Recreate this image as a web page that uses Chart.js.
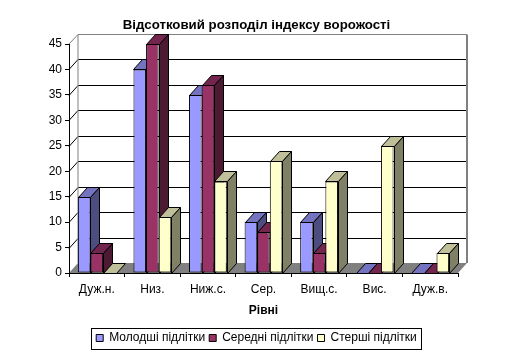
<!DOCTYPE html>
<html>
<head>
<meta charset="utf-8">
<title>Відсотковий розподіл індексу ворожості</title>
<script src="https://cdn.jsdelivr.net/npm/chart.js@4"></script>
<style>
  html, body { margin: 0; padding: 0; background: #ffffff; }
  canvas { display: block; }
</style>
</head>
<body>
<canvas id="grafica" width="513" height="359"></canvas>
<script>
// Datos de la gráfica
const categories = ["Дуж.н.", "Низ.", "Ниж.с.", "Сер.", "Вищ.с.", "Вис.", "Дуж.в."];
const molodshi = [15, 40, 35, 10, 10, 0, 0];
const seredni = [4, 45, 37, 8, 4, 0, 0];
const starshi = [0, 11, 18, 22, 18, 25, 4];
const yTicks = [0, 5, 10, 15, 20, 25, 30, 35, 40, 45];

// Profundidad del efecto 3D
const DX = 9;
const DY = -10;

// Colores: frente, tapa, lateral
const caras = [
    { front: '#9999ff', top: '#7373bf', side: '#4d4d80' },
    { front: '#993366', top: '#73264d', side: '#4d1a33' },
    { front: '#ffffcc', top: '#bfbf99', side: '#808066' }
];

function poligono(ctx, puntos, fill, stroke) {
    ctx.beginPath();
    puntos.forEach((p, i) => i ? ctx.lineTo(p[0], p[1]) : ctx.moveTo(p[0], p[1]));
    ctx.closePath();
    if (fill) { ctx.fillStyle = fill; ctx.fill(); }
    if (stroke) { ctx.strokeStyle = stroke; ctx.lineWidth = 1; ctx.stroke(); }
}

// Paredes, piso y rejilla del fondo
const fondo3d = {
    id: 'fondo3d',
    beforeDraw(chart) {
        const { ctx, chartArea: a, scales } = chart;
        const y = scales.y;
        ctx.save();
        ctx.fillStyle = '#ffffff';
        ctx.fillRect(0, 0, chart.width, chart.height);

        // Piso
        poligono(ctx, [[a.left, a.bottom], [a.right, a.bottom], [a.right + DX, a.bottom + DY], [a.left + DX, a.bottom + DY]], '#808080', null);

        // Rejilla
        ctx.lineWidth = 1;
        ctx.strokeStyle = '#000000';
        yTicks.slice(1, -1).forEach((v) => {
            const py = Math.round(y.getPixelForValue(v)) + 0.5;
            ctx.beginPath();
            ctx.moveTo(a.left, py);
            ctx.lineTo(a.left + DX, py + DY);
            ctx.lineTo(a.right + DX, py + DY);
            ctx.stroke();
        });

        // Borde gris de la pared
        const top = Math.round(a.top) + DY + 0.5;
        const bottom = a.bottom + DY;
        ctx.strokeStyle = '#808080';
        ctx.beginPath();
        ctx.moveTo(a.left, a.top);
        ctx.lineTo(a.left + DX, top);
        ctx.lineTo(a.left + DX, bottom);
        ctx.stroke();
        ctx.beginPath();
        ctx.moveTo(a.left + DX, top);
        ctx.lineTo(a.right + DX, top);
        ctx.stroke();
        ctx.lineWidth = 2;
        ctx.beginPath();
        ctx.moveTo(a.right + DX, top);
        ctx.lineTo(a.right + DX, bottom);
        ctx.stroke();
        ctx.restore();
    },
    // Chart.js pinta el primer dataset encima; aquí interesa al revés
    beforeDatasetDraw() {
        return false;
    },
    afterDatasetsDraw(chart) {
        const { ctx } = chart;
        ctx.save();
        caras.forEach((cara, i) => {
            chart.getDatasetMeta(i).data.forEach((bar) => {
                const l = Math.round(bar.x - bar.width / 2) + 0.5;
                const r = Math.round(bar.x + bar.width / 2) + 0.5;
                const t = Math.round(bar.y) + 0.5;
                const b = Math.round(bar.base) + 0.5;
                bar.draw(ctx);
                poligono(ctx, [[l, t], [r, t], [r + DX, t + DY], [l + DX, t + DY]], cara.top, '#000000');
                if (b > t) {
                    poligono(ctx, [[r, t], [r + DX, t + DY], [r + DX, b + DY], [r, b]], cara.side, '#000000');
                }
            });
        });
        ctx.restore();
    },
    // Marco de la leyenda
    afterDraw(chart) {
        const cajas = chart.legend.legendHitBoxes;
        const ultima = cajas[cajas.length - 1];
        const { ctx } = chart;
        ctx.save();
        ctx.strokeStyle = '#000000';
        ctx.lineWidth = 1;
        const x = Math.round(cajas[0].left) - 4.5;
        const w = Math.round(ultima.left + ultima.width) + 4.5 - x;
        ctx.strokeRect(x, Math.round(chart.legend.top) + 0.5, w, 21);
        ctx.restore();
    }
};

const conjunto = (label, data, i) => ({
    label: label,
    data: data,
    backgroundColor: caras[i].front,
    borderColor: '#000000',
    borderWidth: 1,
    borderSkipped: false,
    barPercentage: 1,
    categoryPercentage: 0.68
});

Chart.defaults.font.family = '"Liberation Sans", Arial, sans-serif';
Chart.defaults.font.size = 12;
Chart.defaults.color = '#000000';

new Chart(document.getElementById('grafica'), {
    type: 'bar',
    data: {
        labels: categories,
        datasets: [
            conjunto('Молодші підлітки', molodshi, 0),
            conjunto('Середні підлітки', seredni, 1),
            conjunto('Стерші підлітки', starshi, 2)
        ]
    },
    plugins: [fondo3d],
    options: {
        responsive: false,
        animation: false,
        clip: false,
        layout: { autoPadding: false, padding: { left: 0, right: 0, top: 0, bottom: 5 } },
        plugins: {
            title: {
                display: true,
                text: 'Відсотковий розподіл індексу ворожості',
                font: { size: 13.25, weight: 'bold' },
                color: '#000000',
                padding: { top: 17, bottom: 11.1 }
            },
            legend: {
                position: 'bottom',
                labels: {
                    boxWidth: 7,
                    boxHeight: 7,
                    padding: 4,
                    font: { size: 12 },
                    color: '#000000'
                }
            },
            tooltip: { enabled: false }
        },
        scales: {
            x: {
                grid: { offset: true, drawOnChartArea: false, color: '#000000', tickLength: 4 },
                border: { color: '#000000' },
                ticks: { padding: 5, maxRotation: 0, autoSkip: false },
                title: { display: true, text: 'Рівні', font: { size: 12, weight: 'bold' }, color: '#000000', padding: { top: 0, bottom: 10 } },
                afterFit(scale) { scale.height = 55; }
            },
            y: {
                min: 0,
                max: 45,
                afterBuildTicks(scale) { scale.ticks = yTicks.map((v) => ({ value: v })); },
                grid: { drawOnChartArea: false, color: '#000000', tickLength: 4 },
                border: { color: '#000000' },
                ticks: { padding: 3 },
                afterFit(scale) { scale.width = 69; }
            },
            // Eje vacío: reserva el margen derecho sin descentrar título y leyenda
            margen: {
                position: 'right',
                min: 0,
                max: 45,
                grid: { display: false },
                border: { display: false },
                ticks: { display: false },
                afterFit(scale) { scale.width = 55; }
            }
        }
    }
});
</script>
</body>
</html>
